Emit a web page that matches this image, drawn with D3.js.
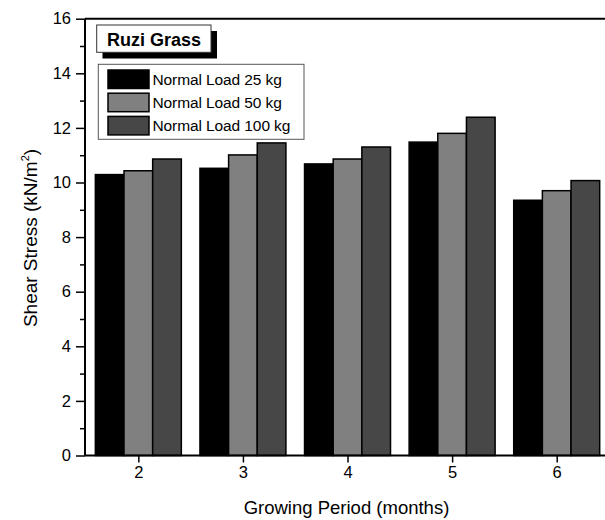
<!DOCTYPE html>
<html>
<head>
<meta charset="utf-8">
<script src="https://cdn.jsdelivr.net/npm/d3@7"></script>
<style>
  html, body { margin: 0; padding: 0; background: #fff; }
  svg { display: block; font-family: "Liberation Sans", Arial, sans-serif; }
</style>
</head>
<body>
<svg id="chart" width="605" height="520"></svg>
<script>
// ---- data ----
const months = [2, 3, 4, 5, 6];
const seriesNames = ["Normal Load 25 kg", "Normal Load 50 kg", "Normal Load 100 kg"];
const load25 = [10.29, 10.52, 10.68, 11.48, 9.35];
const load50 = [10.43, 11.01, 10.86, 11.80, 9.70];
const load100 = [10.86, 11.45, 11.30, 12.39, 10.07];
const seriesColors = ["#000000", "#808080", "#474747"];
const yTicks = [0, 2, 4, 6, 8, 10, 12, 14, 16];
const yMinorTicks = [1, 3, 5, 7, 9, 11, 13, 15];
const titleText = "Ruzi Grass";
const xLabel = "Growing Period (months)";

const series = [load25, load50, load100];

// ---- layout ----
const svg = d3.select("#chart");
const pLeft = 85, pRight = 609, pTop = 18.7, pBottom = 455.5;

const x = d3.scaleLinear().domain([1.49, 6.5]).range([pLeft, pRight]);
const y = d3.scaleLinear().domain([0, 16]).range([pBottom, pTop]);
const barW = 0.274; // in x units
const barPx = x(months[0] + barW) - x(months[0]);

// bars
series.forEach((vals, si) => {
  svg.append("g").selectAll("rect")
    .data(months.map((m, i) => ({m, v: vals[i]})))
    .join("rect")
    .attr("x", d => x(d.m + (si - 1.5) * barW))
    .attr("width", barPx)
    .attr("y", d => y(d.v))
    .attr("height", d => y(0) - y(d.v))
    .attr("fill", seriesColors[si])
    .attr("stroke", "#000")
    .attr("stroke-width", 1.5);
});

// y axis
const yAxis = svg.append("g").attr("transform", `translate(${pLeft},0)`)
  .call(d3.axisLeft(y).tickValues(yTicks).tickSize(9).tickPadding(5).tickFormat(d3.format("d")));
yAxis.select(".domain").attr("stroke-width", 2).attr("d", `M0,${pTop}V${pBottom}`);
yAxis.selectAll(".tick line").attr("stroke-width", 1.5);
yAxis.selectAll(".tick text").attr("font-size", 16.5).attr("font-family", "Liberation Sans, Arial, sans-serif").attr("fill", "#000");
svg.append("g").attr("transform", `translate(${pLeft},0)`)
  .call(d3.axisLeft(y).tickValues(yMinorTicks).tickSize(5).tickFormat(""))
  .call(g => g.select(".domain").remove())
  .selectAll(".tick line").attr("stroke-width", 1.5);

// x axis
const xAxis = svg.append("g").attr("transform", `translate(0,${pBottom})`)
  .call(d3.axisBottom(x).tickValues(months).tickSize(7).tickPadding(4).tickFormat(d3.format("d")));
xAxis.select(".domain").attr("stroke-width", 2).attr("d", `M${pLeft},0H605`);
xAxis.selectAll(".tick line").attr("stroke-width", 1.5);
xAxis.selectAll(".tick text").attr("font-size", 16.5).attr("font-family", "Liberation Sans, Arial, sans-serif").attr("fill", "#000");

// top frame line
svg.append("line").attr("x1", pLeft).attr("x2", 605).attr("y1", pTop).attr("y2", pTop)
  .attr("stroke", "#000").attr("stroke-width", 2);

// axis titles
svg.append("text").attr("x", 346.5).attr("y", 514)
  .attr("text-anchor", "middle").attr("font-size", 18.5).text(xLabel);

const yl = svg.append("text").attr("transform", "rotate(-90)")
  .attr("x", -238).attr("y", 37).attr("text-anchor", "middle").attr("font-size", 19);
yl.append("tspan").text("Shear Stress (kN/m");
yl.append("tspan").attr("font-size", 11).attr("dy", -8).text("2");
yl.append("tspan").attr("dy", 8).text(")");

// title box with shadow
svg.append("rect").attr("x", 102.5).attr("y", 31).attr("width", 114.5).attr("height", 27.5).attr("fill", "#000");
svg.append("rect").attr("x", 96.7).attr("y", 25).attr("width", 114.3).attr("height", 27.3)
  .attr("fill", "#fff").attr("stroke", "#333").attr("stroke-width", 1);
svg.append("text").attr("x", 107).attr("y", 45.5).attr("font-size", 18).attr("font-weight", "bold").text(titleText);

// legend
svg.append("rect").attr("x", 98.3).attr("y", 64.3).attr("width", 205.7).attr("height", 75)
  .attr("fill", "#fff").attr("stroke", "#555").attr("stroke-width", 1);
const lg = svg.append("g").selectAll("g").data(seriesNames).join("g")
  .attr("transform", (d, i) => `translate(108,${70 + i * 23.2})`);
lg.append("rect").attr("width", 41).attr("height", 18.5)
  .attr("fill", (d, i) => seriesColors[i]).attr("stroke", "#000").attr("stroke-width", 1.5);
lg.append("text").attr("x", 44.5).attr("y", 15).attr("font-size", 15.5).attr("letter-spacing", -0.1).text(d => d);
</script>
</body>
</html>
